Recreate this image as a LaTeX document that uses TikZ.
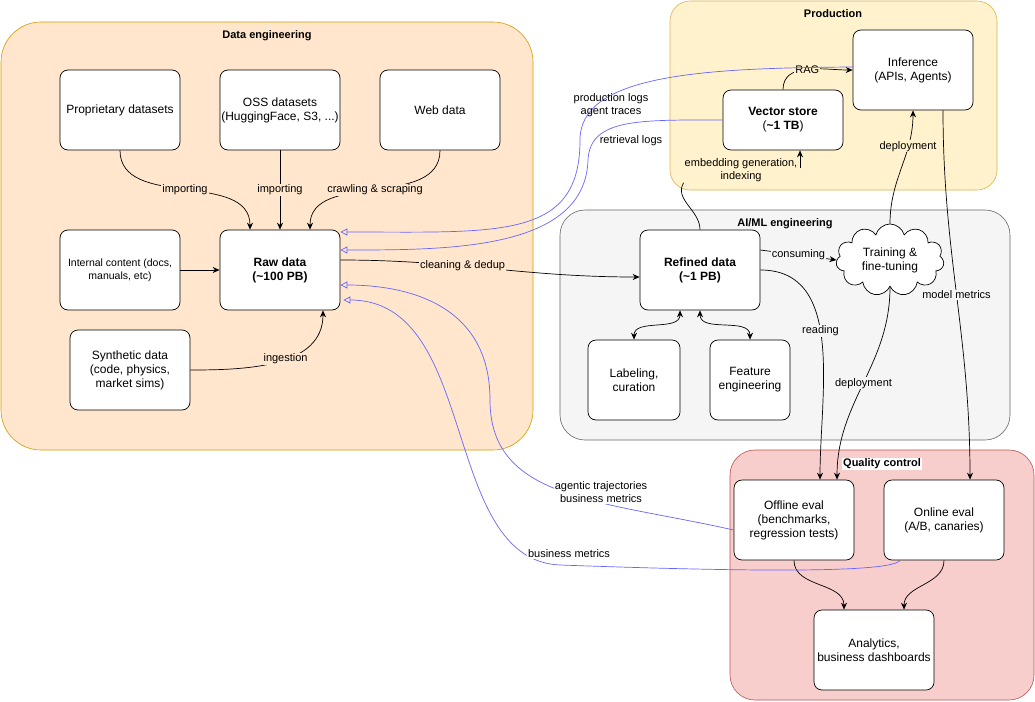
\documentclass[tikz,border=0pt]{standalone}
\usepackage{fontspec}
\setmainfont{Liberation Sans}
\usetikzlibrary{arrows.meta,shapes.symbols}
\definecolor{deF}{HTML}{FFE6CC}\definecolor{deS}{HTML}{D79B00}
\definecolor{prF}{HTML}{FFF2CC}\definecolor{prS}{HTML}{D6B656}
\definecolor{aiF}{HTML}{F5F5F5}\definecolor{aiS}{HTML}{666666}
\definecolor{qcF}{HTML}{F8CECC}\definecolor{qcS}{HTML}{B85450}
\definecolor{bl}{HTML}{6666FF}
\begin{document}
\begin{tikzpicture}[x=1pt,y=-1pt,
 grp/.style={draw=#1,rounded corners=40pt,line width=0.6pt},
 box/.style={draw,fill=white,rounded corners=8pt,line width=0.7pt,align=center,font=\fontsize{12}{14}\selectfont,inner sep=1pt},
 ttl/.style={font=\bfseries\fontsize{11}{13}\selectfont},
 lab/.style={font=\fontsize{11}{13}\selectfont,align=center,inner sep=1pt},
 ar/.style={-{Stealth[length=7pt,width=6pt]},line width=0.7pt},
 bar/.style={{Stealth[length=7pt,width=6pt]}-{Stealth[length=7pt,width=6pt]},line width=0.7pt},
 ba/.style={-{Triangle[open,length=7pt,width=7pt]},draw=bl,line width=0.7pt}]
\useasboundingbox (0,0) rectangle (1035,701);
% groups
\draw[grp=deS,fill=deF] (1,22) rectangle (533,450);
\node[ttl] at (267,36) {Data engineering};
\draw[grp=prS,fill=prF,rounded corners=20pt] (670,1) rectangle (997,190);
\node[ttl] at (833,14) {Production};
\draw[grp=aiS,fill=aiF,rounded corners=25pt] (560,210) rectangle (1010,440);
\node[ttl] at (785,224) {AI/ML engineering};
\draw[grp=qcS,fill=qcF,rounded corners=25pt] (730,450) rectangle (1034,700);
\node[ttl,fill=white,inner sep=1pt] at (882,464) {Quality control};
% nodes
\node[box,minimum width=120pt,minimum height=80pt] (prop) at (120,110) {Proprietary datasets};
\node[box,minimum width=120pt,minimum height=80pt] (oss) at (280,110) {OSS datasets\\(HuggingFace, S3, ...)};
\node[box,minimum width=120pt,minimum height=80pt] (web) at (440,110) {Web data};
\node[box,minimum width=120pt,minimum height=80pt,font=\fontsize{10.5}{13}\selectfont] (int) at (120,270) {Internal content (docs,\\manuals, etc)};
\node[box,minimum width=120pt,minimum height=80pt,font=\bfseries\fontsize{12}{14}\selectfont] (raw) at (280,270) {Raw data\\(\textasciitilde100 PB)};
\node[box,minimum width=120pt,minimum height=80pt] (syn) at (130,370) {Synthetic data\\(code, physics,\\market sims)};
\node[box,minimum width=120pt,minimum height=60pt] (vec) at (783,120) {\textbf{Vector store}\\(\textbf{\textasciitilde1 TB})};
\node[box,minimum width=120pt,minimum height=80pt] (inf) at (913,70) {Inference\\(APIs, Agents)};
\node[box,minimum width=120pt,minimum height=80pt,font=\bfseries\fontsize{12}{14}\selectfont] (ref) at (700,270) {Refined data\\(\textasciitilde1 PB)};
\node[cloud,draw,fill=white,line width=0.7pt,cloud puffs=11,aspect=1.6,minimum width=108pt,minimum height=72pt,align=center,font=\fontsize{12}{14}\selectfont,inner sep=0pt] (tr) at (890,260) {Training \&\\fine-tuning};
\node[box,minimum width=92pt,minimum height=80pt] (lab) at (634,380) {Labeling,\\curation};
\node[box,minimum width=80pt,minimum height=80pt] (fe) at (750,380) {Feature\\engineering};
\node[box,minimum width=120pt,minimum height=80pt] (off) at (794,520) {Offline eval\\(benchmarks,\\regression tests)};
\node[box,minimum width=120pt,minimum height=80pt] (on) at (944,520) {Online eval\\(A/B, canaries)};
\node[box,minimum width=120pt,minimum height=80pt] (ana) at (874,650) {Analytics,\\business dashboards};
% black edges
\draw[ar] (prop.south) to[out=-90,in=90,looseness=1] node[lab,fill=deF,pos=0.5]{importing} ([xshift=-30pt]raw.north);
\draw[ar] (oss.south) -- node[lab,fill=deF]{importing} (raw.north);
\draw[ar] (web.south) to[out=-90,in=90] node[lab,fill=deF]{crawling \& scraping} ([xshift=30pt]raw.north);
\draw[ar] (int) -- (raw);
\draw[ar] (syn.east) to[out=0,in=-90] node[lab,fill=deF,pos=0.55]{ingestion} ([xshift=43pt]raw.south);
\draw[ar] ([yshift=10pt]raw.east) to[out=0,in=180] node[lab,fill=deF,pos=0.4]{cleaning \& dedup} ([yshift=-7pt]ref.west);
\node[lab,fill=prF] (embl) at (741,170) {embedding generation,\\indexing};
\draw[line width=0.7pt] (ref.north) to[out=90,in=-120] (embl.south west);
\draw[ar] ([xshift=17pt,yshift=-18pt]vec.south) -- ([xshift=17pt]vec.south);
\draw[ar] ([xshift=0pt]vec.north) to[out=90,in=180] node[lab,fill=prF]{RAG} ([yshift=0pt]inf.west);
\draw[ar] ([yshift=20pt]ref.east) -- node[lab,fill=aiF]{consuming} (tr.west);
\draw[ar] (tr.north) to[out=90,in=-90] node[lab,fill=prF,pos=0.7]{deployment} (inf.south);
\draw[ar] (tr.south) to[out=-90,in=90] node[lab,fill=aiF,pos=0.5]{deployment} ([xshift=43pt]off.north);
\draw[ar] ([yshift=0pt]ref.east) to[out=0,in=90] node[lab,fill=aiF,pos=0.45]{reading} ([xshift=26pt]off.north);
\draw[ar] ([xshift=30pt]inf.south) to[out=-90,in=90] node[lab,fill=aiF,pos=0.5]{model metrics} ([xshift=26pt]on.north);
\draw[bar] ([xshift=-20pt]ref.south) to[out=-90,in=90] (lab.north);
\draw[bar] (ref.south) to[out=-90,in=90] (fe.north);
\draw[ar] (off.south) to[out=-90,in=90] ([xshift=-30pt]ana.north);
\draw[ar] (on.south) to[out=-90,in=90] ([xshift=30pt]ana.north);
% blue edges
\draw[ba] ([yshift=3pt]inf.west) .. controls (700,68) and (580,75) .. (580,140) .. controls (580,240) and (500,232) .. ([yshift=38pt]raw.east);
\node[lab] at (611,105) {production logs\\agent traces};
\draw[ba] (vec.west) .. controls (640,120) and (590,118) .. (588,160) .. controls (585,250) and (450,250) .. ([yshift=20pt]raw.east);
\node[lab] at (631,141) {retrieval logs};
\draw[ba] ([yshift=-10pt]off.west) .. controls (600,500) and (490,500) .. (490,400) .. controls (490,300) and (400,285) .. ([yshift=-15pt]raw.east);
\node[lab,fill=white] at (601,492) {agentic trajectories\\business metrics};
\draw[ba] ([xshift=-44pt]on.south) .. controls (890,575) and (700,570) .. (560,565) .. controls (440,560) and (480,300) .. ([yshift=-30pt,xshift=3pt]raw.east);
\node[lab,fill=white] at (569,554) {business metrics};
\end{tikzpicture}
\end{document}
